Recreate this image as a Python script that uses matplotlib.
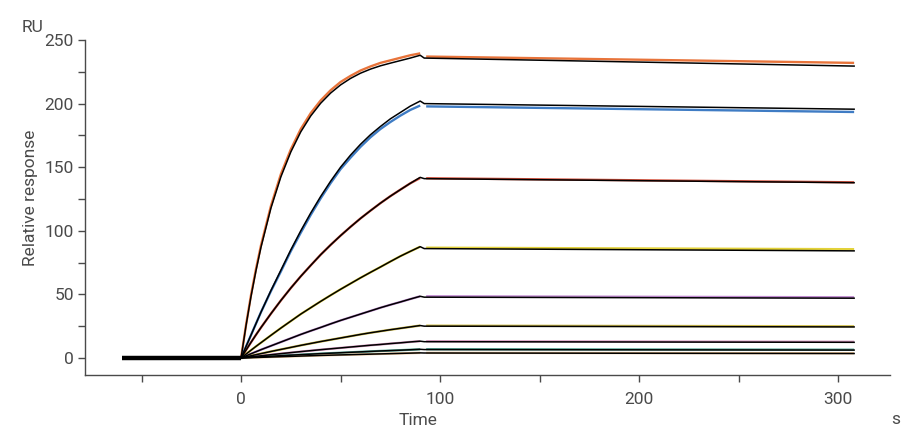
"""SPR sensorgram: measured responses (coloured) with 1:1 fits (black)."""
import matplotlib
matplotlib.use("Agg")
import matplotlib.pyplot as plt
from matplotlib.ticker import MultipleLocator

plt.rcParams["font.family"] = ["Roboto", "DejaVu Sans"]

# ---------------------------------------------------------------------------
# Data
# ---------------------------------------------------------------------------
BASE_T = [-60, 0]
BASE_R = [0, 0]

ASSOC_T = [0, 2.5, 5, 7.5, 10, 15, 20, 25, 30, 35, 40, 45, 50, 55, 60, 65,
           70, 75, 80, 85, 90]
DISS_T = [92, 308]

COLORS = ["#e8743b", "#3f7cc4", "#d4503c", "#e3d23a", "#c08ad0",
          "#d2c050", "#d897c0", "#5aa596", "#ecc494"]

# fitted curves (black)
FIT_ASSOC = [
    [0, 25.5, 48.4, 68.7, 87, 117.8, 142.4, 162, 177.8, 190.3, 200.3, 208.3,
     214.7, 219.8, 223.9, 227.1, 229.7, 231.8, 233.8, 235.8, 238],
    [0, 9, 18, 27, 36, 53, 69, 85, 100, 114, 127, 139, 150, 159.5, 168,
     175.5, 182, 188, 193, 198, 202],
    [0, 6.2, 12.3, 18.2, 23.9, 34.8, 45.2, 55, 64.2, 72.8, 81.2, 88.9, 96.2,
     103.1, 109.7, 115.8, 121.7, 127.2, 132.3, 137.3, 142],
    [0, 3.05, 6.1, 9.1, 12, 17.8, 23.5, 29, 34.5, 39.5, 44.5, 49.3, 54, 58.5,
     63, 67.3, 71.5, 75.8, 80, 83.8, 87.5],
    [0, 1.65, 3.3, 4.9, 6.5, 9.5, 12.5, 15.5, 18.5, 21.3, 24, 26.8, 29.5, 32,
     34.5, 37, 39.5, 41.8, 44, 46.3, 48.5],
    [0, 0.86, 1.72, 2.56, 3.4, 5.1, 6.7, 8.3, 9.9, 11.4, 12.9, 14.3, 15.7,
     17.1, 18.5, 19.8, 21, 22.2, 23.3, 24.4, 25.5],
    [0, 0.43, 0.86, 1.28, 1.7, 2.55, 3.4, 4.2, 5, 5.75, 6.5, 7.2, 7.9, 8.6,
     9.3, 10, 10.6, 11.3, 11.9, 12.6, 13.2],
    [0, 0.23, 0.45, 0.68, 0.9, 1.35, 1.8, 2.2, 2.6, 3, 3.4, 3.75, 4.1, 4.45,
     4.8, 5.15, 5.5, 5.8, 6.1, 6.45, 6.8],
    [0, 0.13, 0.25, 0.38, 0.5, 0.75, 1, 1.25, 1.5, 1.75, 2, 2.2, 2.4, 2.6,
     2.8, 3.0, 3.2, 3.4, 3.6, 3.8, 4],
]
FIT_DISS = [
    [235.8, 229.5],
    [200.0, 195.6],
    [141.0, 137.8],
    [86.0, 84.2],
    [47.8, 47.0],
    [25.0, 24.4],
    [12.8, 12.3],
    [6.6, 6.2],
    [3.9, 3.5],
]

# measured responses (coloured)
DATA_ASSOC = [
    [0, 26, 49.5, 70, 88.5, 119.5, 144.5, 164, 180, 192.5, 202.5, 210.5,
     217, 221.8, 226, 229.2, 232, 234, 236, 238, 239.5],
    [0, 9, 18, 27, 36, 52.5, 68, 84, 98.5, 112.5, 125.5, 137.5, 148.5,
     157.5, 166, 173.5, 180, 185.5, 190.5, 195, 198.5],
    [0, 6.2, 12.3, 18.2, 23.9, 34.8, 45.2, 55, 64.2, 72.8, 81.2, 88.9, 96.2,
     103.1, 109.7, 115.8, 121.7, 127.2, 132.3, 137.3, 141.5],
    [0, 3.05, 6.1, 9.1, 12, 17.8, 23.5, 29, 34.5, 39.5, 44.5, 49.3, 54, 58.5,
     63, 67.3, 71.5, 75.8, 80, 83.8, 87.5],
    [0, 1.65, 3.3, 4.9, 6.5, 9.5, 12.5, 15.5, 18.5, 21.3, 24, 26.8, 29.5, 32,
     34.5, 37, 39.5, 41.8, 44, 46.3, 48.5],
    [0, 0.86, 1.72, 2.56, 3.4, 5.1, 6.7, 8.3, 9.9, 11.4, 12.9, 14.3, 15.7,
     17.1, 18.5, 19.8, 21, 22.2, 23.3, 24.4, 25.5],
    [0, 0.43, 0.86, 1.28, 1.7, 2.55, 3.4, 4.2, 5, 5.75, 6.5, 7.2, 7.9, 8.6,
     9.3, 10, 10.6, 11.3, 11.9, 12.6, 13.2],
    [0, 0.23, 0.45, 0.68, 0.9, 1.35, 1.8, 2.2, 2.6, 3, 3.4, 3.75, 4.1, 4.45,
     4.8, 5.15, 5.5, 5.8, 6.1, 6.45, 6.8],
    [0, 0.13, 0.25, 0.38, 0.5, 0.75, 1, 1.25, 1.5, 1.75, 2, 2.2, 2.4, 2.6,
     2.8, 3.0, 3.2, 3.4, 3.6, 3.8, 4],
]
DATA_DISS_T = [93, 308]
DATA_DISS = [
    [237.0, 232.0],
    [197.8, 193.4],
    [141.3, 138.1],
    [86.7, 85.5],
    [48.5, 47.7],
    [25.4, 24.9],
    [13.1, 12.7],
    [6.9, 6.5],
    [4.0, 3.7],
]

X_MAJOR = [0, 100, 200, 300]

INK = "#4a4a4a"
FS = 12.5

fig = plt.figure(figsize=(9.23, 4.45), dpi=100)
ax = fig.add_axes([0.0921, 0.1573, 0.8721, 0.7528])

for i, color in enumerate(COLORS):
    ax.plot(ASSOC_T, DATA_ASSOC[i], color=color, lw=1.7, zorder=2,
            solid_capstyle="butt")
    ax.plot(DATA_DISS_T, DATA_DISS[i], color=color, lw=1.7, zorder=2,
            solid_capstyle="butt")

for i in range(len(COLORS)):
    ax.plot(ASSOC_T + DISS_T, FIT_ASSOC[i] + FIT_DISS[i], color="black",
            lw=1.1, zorder=3)

ax.plot(BASE_T, BASE_R, color="black", lw=3.2, zorder=4,
        solid_capstyle="butt")

ax.set_xlim(-78.4, 326)
ax.set_ylim(-13.4, 250)

ax.set_xticks(X_MAJOR)
ax.xaxis.set_minor_locator(MultipleLocator(50))
ax.yaxis.set_major_locator(MultipleLocator(50))
ax.yaxis.set_minor_locator(MultipleLocator(25))

for side in ("top", "right"):
    ax.spines[side].set_visible(False)
for side in ("left", "bottom"):
    ax.spines[side].set_color(INK)
    ax.spines[side].set_linewidth(1.0)

ax.tick_params(axis="both", which="both", direction="out", length=5,
               width=1.0, color=INK, labelcolor=INK, labelsize=FS)
ax.tick_params(axis="x", which="major", pad=7)
ax.tick_params(axis="y", which="major", pad=3)

ax.set_xlabel("Time", fontsize=FS, color=INK)
ax.set_ylabel("Relative response", fontsize=FS, color=INK)
ax.xaxis.set_label_coords(0.414, -0.112)
ax.yaxis.set_label_coords(-0.058, 0.53)

fig.text(33 / 923, 1 - 27 / 445, "RU", fontsize=FS, color=INK,
         ha="center", va="center")
fig.text(896 / 923, 1 - 420 / 445, "s", fontsize=FS, color=INK,
         ha="center", va="center")

fig.savefig("out.png", dpi=100)
